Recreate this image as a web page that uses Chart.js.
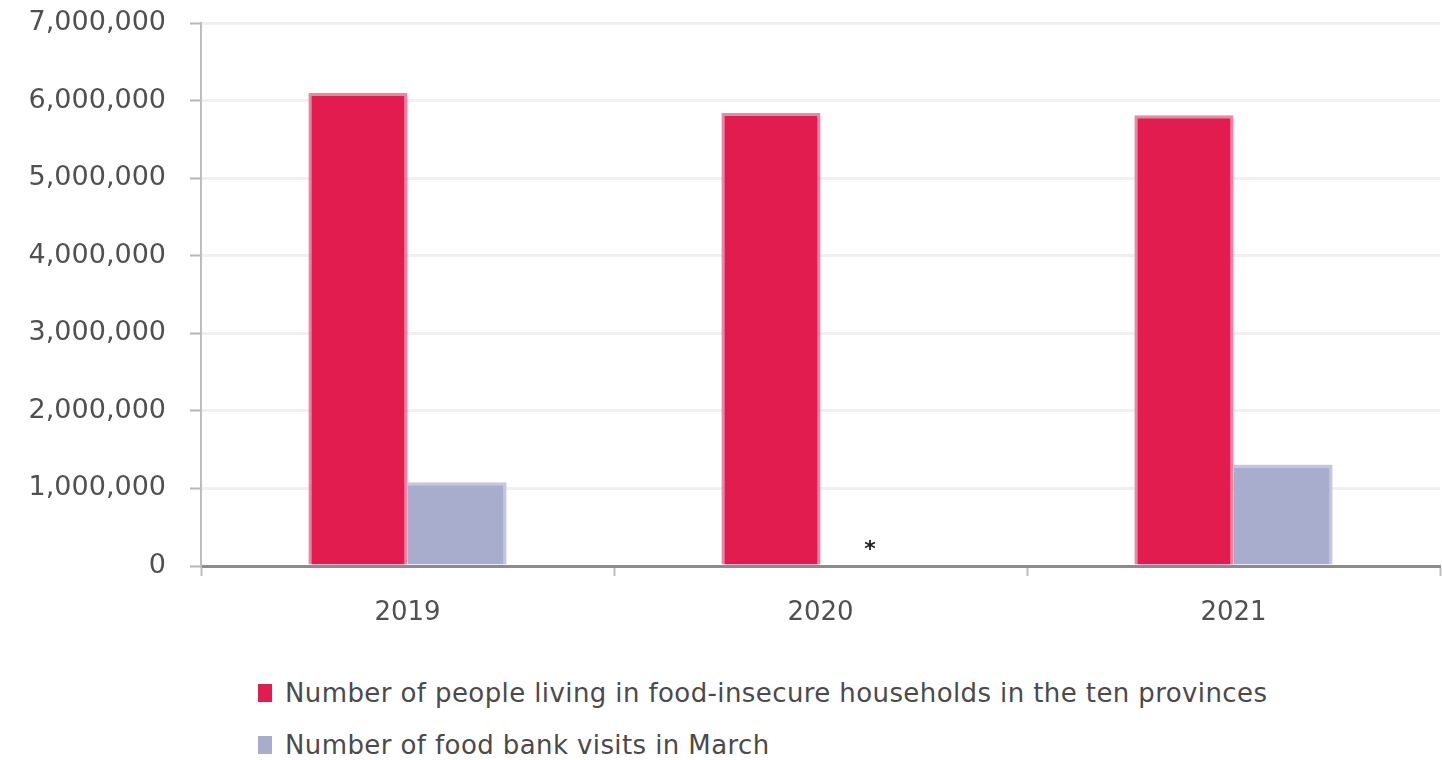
<!DOCTYPE html>
<html>
<head>
<meta charset="utf-8">
<script src="https://cdn.jsdelivr.net/npm/chart.js@4"></script>
<style>
  html,body{margin:0;padding:0;background:#fff;}
  #wrap{position:relative;width:1442px;height:760px;font-family:'DejaVu Sans',sans-serif;}
  #box{position:absolute;left:0;top:0;width:1442px;height:650px;}
  #legend{position:absolute;left:258px;top:676px;}
  .lg-item{display:flex;align-items:center;height:34px;margin-bottom:18px;color:#4a4a4a;font-size:26px;letter-spacing:0.4px;white-space:nowrap;}
  .lg-sw{width:14px;height:18px;margin-right:13px;}
</style>
</head>
<body>
<div id="wrap">
  <div id="box"><canvas id="ch"></canvas></div>
  <div id="legend"></div>
</div>
<script>
// categories + series
const years=['2019','2020','2021'];
const insecure=[6100000,5840000,5810000];
const visits=[1080000,null,1310000];
const notes=['','*',''];   // marker for the missing 2020 visits figure
const seriesNames=['Number of people living in food-insecure households in the ten provinces','Number of food bank visits in March'];
const yTicks={min:0,max:7000000,step:1000000};

const C={red:'#E21C4F',redEdge:'rgba(240,110,145,0.85)',blue:'#A8ACCD',blueEdge:'#C3C6DF'};
const fmt=v=>Number(v).toLocaleString('en-US');
const FONT='DejaVu Sans';

// draws the little asterisk where the 2020 visits bar would sit
const notePlugin={
  id:'notes',
  afterDatasetsDraw(chart){
    const meta=chart.getDatasetMeta(1), y0=chart.scales.y.getPixelForValue(0);
    const ctx=chart.ctx;
    ctx.save();
    ctx.fillStyle='#222';ctx.font='bold 22px "DejaVu Sans"';ctx.textAlign='center';ctx.textBaseline='middle';
    notes.forEach((n,i)=>{ if(n && meta.data[i]) ctx.fillText(n,meta.data[i].x,y0-16); });
    ctx.restore();
  }
};

const chart=new Chart(document.getElementById('ch'),{
  type:'bar',
  data:{
    labels:years,
    datasets:[
      {label:seriesNames[0],data:insecure,backgroundColor:C.red,borderColor:C.redEdge,borderWidth:{top:3,left:3,right:3,bottom:0}},
      {label:seriesNames[1],data:visits,backgroundColor:C.blue,borderColor:C.blueEdge,borderWidth:{top:3,left:0,right:3,bottom:0}}
    ]
  },
  options:{
    responsive:true,maintainAspectRatio:false,animation:false,
    layout:{padding:{top:23,right:2,left:0,bottom:0}},
    categoryPercentage:0.48,barPercentage:1.0,
    plugins:{legend:{display:false},tooltip:{enabled:false}},
    scales:{
      x:{
        grid:{drawOnChartArea:false,offset:true,tickLength:10,tickColor:'#bdbdbd',tickWidth:2},
        border:{color:'#8c8c8c',width:3},
        ticks:{color:'#505050',padding:22,font:{family:FONT,size:26}},
        afterFit(s){s.height=84;}
      },
      y:{
        min:yTicks.min,max:yTicks.max,
        grid:{color:'#f0f0f0',lineWidth:3,tickLength:11,tickColor:'#b5b5b5',tickWidth:2},
        border:{color:'#bdbdbd',width:2},
        ticks:{stepSize:yTicks.step,color:'#505050',padding:24,font:{family:FONT,size:27},callback:v=>fmt(v)},
        afterFit(s){s.width=201;s.paddingTop=0;s.paddingBottom=0;}
      }
    }
  },
  plugins:[notePlugin]
});

// legend, stacked like the original
const lg=document.getElementById('legend');
lg.innerHTML=chart.data.datasets.map(d=>`<div class="lg-item"><span class="lg-sw" style="background:${d.backgroundColor}"></span>${d.label}</div>`).join('');
</script>
</body>
</html>
